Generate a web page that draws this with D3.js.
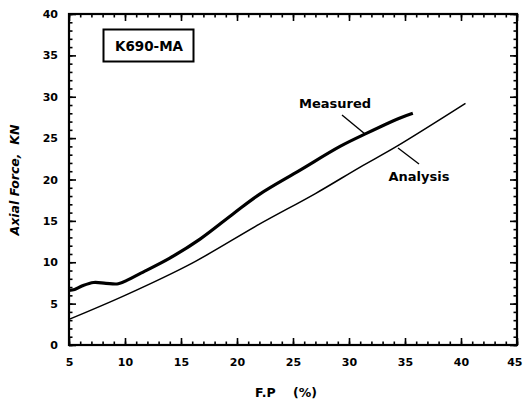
<!DOCTYPE html>
<html><head><meta charset="utf-8">
<script src="https://cdn.jsdelivr.net/npm/d3@7"></script>
<style>
body{margin:0;background:#fff;}
svg text{font-family:"DejaVu Sans",sans-serif;font-weight:bold;fill:#000;}
</style></head>
<body><svg id="c" width="523" height="402"></svg>
<script>
const xTicks = [5,10,15,20,25,30,35,40,45];
const yTicks = [0,5,10,15,20,25,30,35,40];
const measuredFP =    [5, 5.5, 6.2, 7.2, 8.3, 9.4, 10.3, 11.3, 14, 16.7, 19.7, 22, 25.6, 29.2, 31.6, 34.5, 35.7];
const measuredForce = [6.6, 6.7, 7.15, 7.55, 7.45, 7.4, 7.9, 8.6, 10.5, 12.8, 15.9, 18.2, 21.1, 24.0, 25.6, 27.4, 28.0];
const analysisFP =    [5, 10, 16, 22, 27, 31, 34.25, 40.4];
const analysisForce = [3.1, 6.0, 9.9, 14.6, 18.3, 21.5, 24.0, 29.2];

const svg = d3.select("#c");
const L=69, R=517, T=14, B=345;
const x = d3.scaleLinear().domain([5,45]).range([L,R]);
const y = d3.scaleLinear().domain([0,40]).range([B,T]);
const minorX = d3.range(5,46,1), minorY = d3.range(0,41,1);

function axis(g, gen){ g.call(gen); g.select(".domain").remove(); g.selectAll("line").attr("stroke","#000").attr("stroke-width",1.6); }
// minor ticks
axis(svg.append("g").attr("transform",`translate(0,${B})`), d3.axisBottom(x).tickValues(minorX).tickSize(-3.5).tickFormat(""));
axis(svg.append("g").attr("transform",`translate(0,${T})`), d3.axisTop(x).tickValues(minorX).tickSize(-3.5).tickFormat(""));
axis(svg.append("g").attr("transform",`translate(${L},0)`), d3.axisLeft(y).tickValues(minorY).tickSize(-3.5).tickFormat(""));
axis(svg.append("g").attr("transform",`translate(${R},0)`), d3.axisRight(y).tickValues(minorY).tickSize(-3.5).tickFormat(""));
// major ticks
const gx = svg.append("g").attr("transform",`translate(0,${B})`);
axis(gx, d3.axisBottom(x).tickValues(xTicks).tickSizeInner(-7).tickSizeOuter(0).tickPadding(13));
axis(svg.append("g").attr("transform",`translate(0,${T})`), d3.axisTop(x).tickValues(xTicks).tickSize(-7).tickFormat(""));
const gy = svg.append("g").attr("transform",`translate(${L},0)`);
axis(gy, d3.axisLeft(y).tickValues(yTicks).tickSizeInner(-7).tickSizeOuter(0).tickPadding(11));
axis(svg.append("g").attr("transform",`translate(${R},0)`), d3.axisRight(y).tickValues(yTicks).tickSize(-7).tickFormat(""));
svg.selectAll(".tick text").attr("font-size",11).attr("font-weight","bold").attr("font-family","DejaVu Sans, sans-serif").attr("fill","#000");
// keep the last x label inside the window
gx.selectAll(".tick text").filter(d => d === 45).attr("text-anchor","end").attr("dx", 522 - R);

// frame
svg.append("rect").attr("x",L).attr("y",T).attr("width",R-L).attr("height",B-T)
  .attr("fill","none").attr("stroke","#000").attr("stroke-width",2.2);

// lines
const line = d3.line().curve(d3.curveCatmullRom.alpha(0.5));
svg.append("path").attr("d", line(measuredFP.map((v,i)=>[x(v),y(measuredForce[i])])))
  .attr("fill","none").attr("stroke","#000").attr("stroke-width",3.2);
svg.append("path").attr("d", line(analysisFP.map((v,i)=>[x(v),y(analysisForce[i])])))
  .attr("fill","none").attr("stroke","#000").attr("stroke-width",1.5);

// annotations
svg.append("text").attr("x",335).attr("y",108).attr("text-anchor","middle").attr("font-size",13).text("Measured");
svg.append("line").attr("x1",342).attr("y1",115).attr("x2",365).attr("y2",134).attr("stroke","#000").attr("stroke-width",1.4);
svg.append("text").attr("x",419).attr("y",181).attr("text-anchor","middle").attr("font-size",13).text("Analysis");
svg.append("line").attr("x1",398).attr("y1",148).attr("x2",419).attr("y2",164).attr("stroke","#000").attr("stroke-width",1.4);

// box label
svg.append("rect").attr("x",103.5).attr("y",29.5).attr("width",90).attr("height",32)
  .attr("fill","none").attr("stroke","#000").attr("stroke-width",2);
svg.append("text").attr("x",149).attr("y",50.5).attr("text-anchor","middle").attr("font-size",13.5).text("K690-MA");

// axis titles
svg.append("text").attr("x",286).attr("y",397).attr("text-anchor","middle").attr("font-size",12.5)
  .attr("xml:space","preserve").style("white-space","pre").text("F.P    (%)");
svg.append("text").attr("transform","translate(19,180) rotate(-90)").attr("text-anchor","middle")
  .attr("font-size",12.5).attr("font-style","italic").style("white-space","pre").text("Axial Force,  KN");
</script></body></html>
